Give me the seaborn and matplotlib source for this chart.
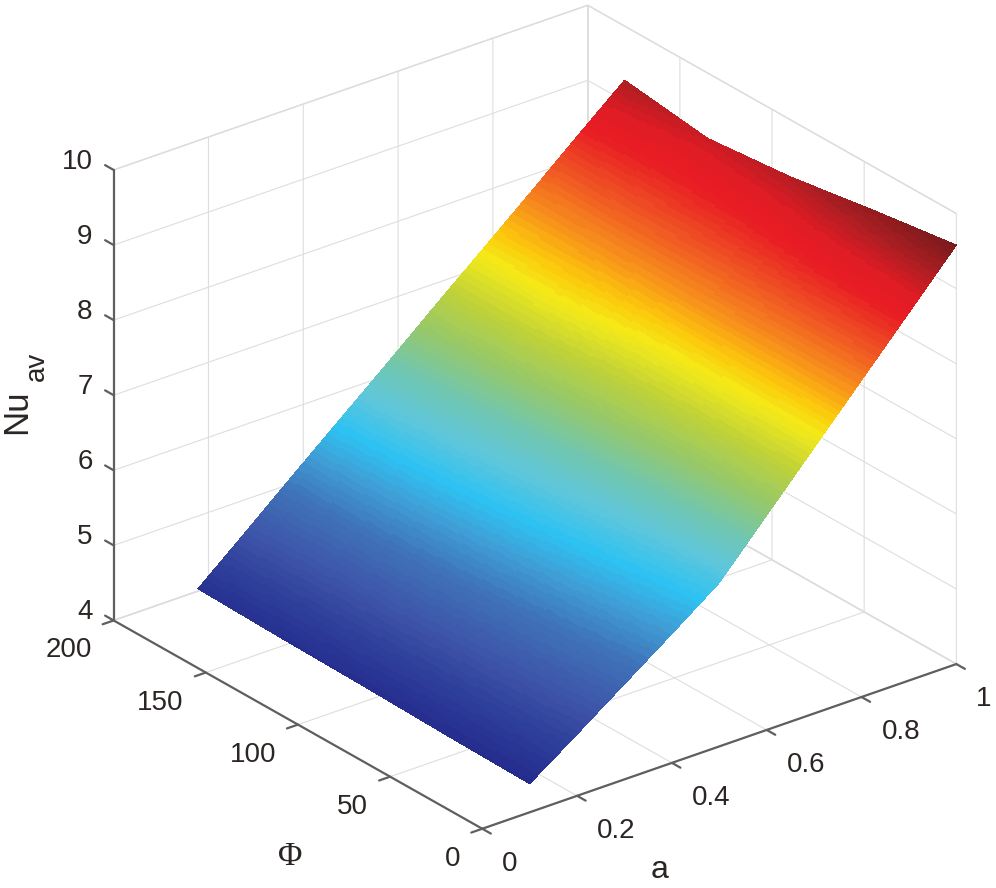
# imports
import numpy as np
import seaborn as sns
import matplotlib.pyplot as plt
from matplotlib.colors import LinearSegmentedColormap
from mpl_toolkits.mplot3d import proj3d

# surface samples
a_vals = [0.1, 0.2, 0.3, 0.4, 0.5, 0.6, 0.7, 0.8, 0.9, 1.0]
phi_vals = [0, 45, 90, 135, 180]
nu_phi_0 = [4.38, 4.82, 5.27, 5.72, 6.18, 6.86, 7.54, 8.22, 8.90, 9.58]
nu_phi_45 = [4.40, 4.87, 5.36, 5.83, 6.30, 6.92, 7.56, 8.22, 8.84, 9.42]
nu_phi_90 = [4.43, 4.92, 5.44, 5.94, 6.42, 7.00, 7.60, 8.20, 8.74, 9.24]
nu_phi_135 = [4.45, 4.96, 5.50, 6.02, 6.52, 7.10, 7.72, 8.20, 8.70, 9.13]
nu_phi_180 = [4.48, 5.01, 5.55, 6.08, 6.61, 7.15, 7.68, 8.21, 8.75, 9.28]

# colour of the surface at given Nu values
color_levels = [4.35, 4.7, 5.0, 5.4, 5.75, 6.0, 6.3, 6.6, 6.95, 7.3, 7.65, 7.85,
                8.15, 8.5, 8.85, 9.05, 9.3, 9.6]
color_values = ["#242c8c", "#2f3f9c", "#3e55a8", "#3f72b8", "#3fa0d8", "#2cc2f2",
                "#5fc6dc", "#70c6b0", "#96c86a", "#c0d238", "#f5ea18", "#fcc80c",
                "#f78c1c", "#ef5224", "#e81c24", "#e01c24", "#ab1e22", "#771a1c"]

a_ticks = [0, 0.2, 0.4, 0.6, 0.8, 1]
a_labels = ["0", "0.2", "0.4", "0.6", "0.8", "1"]
phi_ticks = [0, 50, 100, 150, 200]
phi_labels = ["0", "50", "100", "150", "200"]
nu_ticks = [4, 5, 6, 7, 8, 9, 10]
nu_labels = ["4", "5", "6", "7", "8", "9", "10"]

TEXT_COLOR = "#2b2523"
LINE_COLOR = "#5f5f5f"

sns.set_theme(style="white")
plt.rcParams["font.family"] = ["Liberation Sans", "DejaVu Sans"]
plt.rcParams["grid.color"] = "#dedede"
plt.rcParams["grid.linewidth"] = 0.8
plt.rcParams["xtick.bottom"] = True
plt.rcParams["ytick.left"] = True

# finer mesh for the interpolated shading, like shading interp in the original
nu_table = np.array([nu_phi_0, nu_phi_45, nu_phi_90, nu_phi_135, nu_phi_180])
a_fine = np.linspace(a_vals[0], a_vals[-1], 271)
phi_fine = np.linspace(phi_vals[0], phi_vals[-1], 41)
by_a = np.array([np.interp(a_fine, a_vals, row) for row in nu_table])
nu_fine = np.array([np.interp(phi_fine, phi_vals, col) for col in by_a.T]).T
A, P = np.meshgrid(a_fine, phi_fine)

low, high = color_levels[0], color_levels[-1]
stops = [(lev - low) / (high - low) for lev in color_levels]
cmap = LinearSegmentedColormap.from_list("nu", list(zip(stops, color_values))).resampled(96)

fig = plt.figure(figsize=(9.96, 8.88), dpi=100)
ax = fig.add_axes([79 / 996, 15 / 888, 888 / 996, 888 / 888], projection="3d")
ax.patch.set_alpha(0)
ax.set_proj_type("ortho")
ax.view_init(elev=26.3, azim=-128.1)
ax.set_box_aspect((603, 598, 503), zoom=1.078)

ax.plot_surface(A, P, nu_fine, cmap=cmap, vmin=low, vmax=high,
                rstride=1, cstride=1, linewidth=0, antialiased=False, shade=False)

ax.set_xlim(0, 1)
ax.set_ylim(0, 200)
ax.set_zlim(4, 10)
ax.set_xticks(a_ticks, labels=[""] * len(a_ticks))
ax.set_yticks(phi_ticks, labels=[""] * len(phi_ticks))
ax.set_zticks(nu_ticks, labels=[""] * len(nu_ticks))

for axis in (ax.xaxis, ax.yaxis, ax.zaxis):
    axis.set_pane_color((1, 1, 1, 1))
    axis.pane.set_edgecolor("#d8d8d8")
    axis.line.set_color(LINE_COLOR)
    axis.line.set_linewidth(1.6)
    # these ticks point out of the box with the inward factor in this view
    axis._axinfo["tick"].update(inward_factor=0.29, outward_factor=0.0,
                                linewidth={True: 1.6, False: 1.0}, color=LINE_COLOR)
# z ticks run along the phi direction in the original, away from the box
ax.zaxis._get_tickdir = lambda pos: 1
ax.zaxis._axinfo["tick"].update(inward_factor=0.0, outward_factor=0.29)
ax.tick_params(color=LINE_COLOR)


def tick_text(x, y, z, label, dx, dy, ha):
    """Write a tick label at a pixel offset from its projected tick."""
    px, py, _ = proj3d.proj_transform(x, y, z, ax.get_proj())
    ax.annotate(label, xy=(px, py), xytext=(dx, dy), textcoords="offset pixels",
                ha=ha, va="center", fontsize=20, color=TEXT_COLOR)


for val, label in zip(a_ticks, a_labels):
    tick_text(val, 0, 4, label, 20, -35, "left")
for val, label in zip(phi_ticks, phi_labels):
    tick_text(0, val, 4, label, -22, -30, "right")
for val, label in zip(nu_ticks, nu_labels):
    tick_text(0, 200, val, label, -21, 8, "right")

fig.text(660 / 996, 1 - 870 / 888, "a", fontsize=23, color=TEXT_COLOR, ha="center", va="center")
fig.text(290 / 996, 1 - 857 / 888, "\u03a6", fontsize=24, color=TEXT_COLOR, ha="center", va="center",
         family="Liberation Serif")
fig.text(17 / 996, 1 - 412 / 888, "Nu", fontsize=25, color=TEXT_COLOR, rotation=90,
         ha="center", va="center")
fig.text(37 / 996, 1 - 366 / 888, "av", fontsize=20, color=TEXT_COLOR, rotation=90,
         ha="center", va="center")

fig.savefig("out.png", dpi=100)
